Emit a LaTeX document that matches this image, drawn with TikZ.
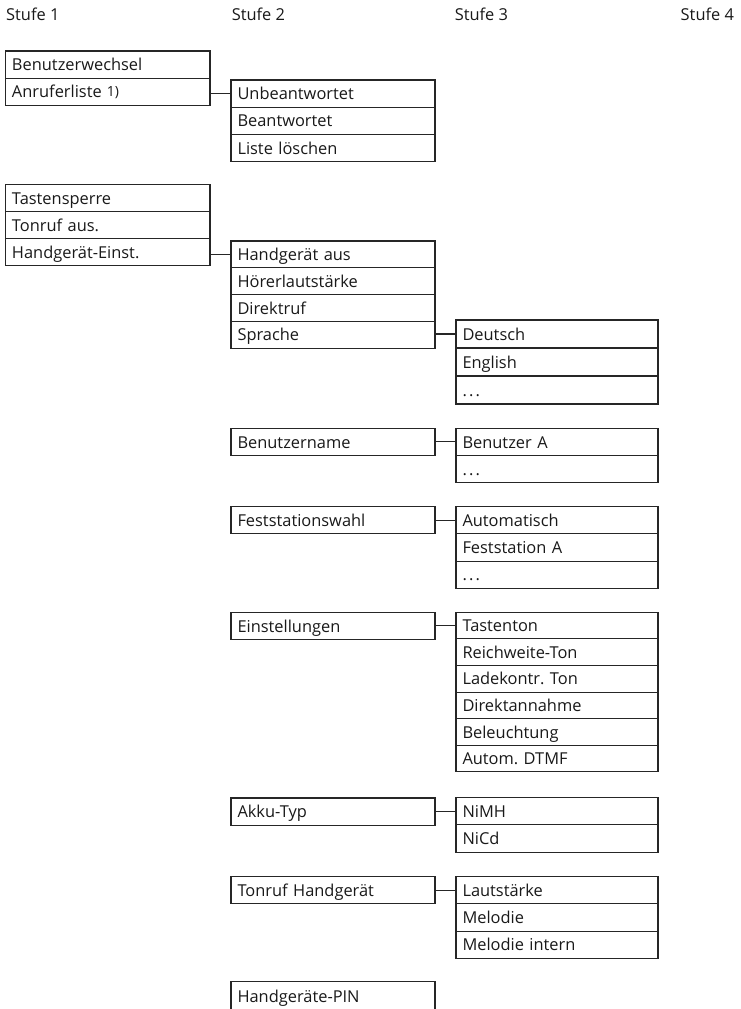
\documentclass[tikz,border=0pt]{standalone}
\usepackage{fontspec}
\setmainfont{Open Sans}
\frenchspacing
\newcommand{\mydots}{.\hspace{2.2pt}.\hspace{2.2pt}.}
\begin{document}
\begin{tikzpicture}[x=1pt,y=-1pt,
  row/.style={draw=black!85, line width=1.1pt, anchor=north west, outer sep=0pt,
    minimum height=27.2pt, inner xsep=6.5pt, inner ysep=0pt,
    text height=12.2pt, text depth=0pt, align=left,
    font=\fontsize{16.4}{18}\selectfont, text=black!90},
  cA/.style={row, text width=191.5pt},
  cB/.style={row, text width=191pt},
  cC/.style={row, text width=189pt},
  hdr/.style={anchor=base west, inner sep=0pt, font=\fontsize{16.4}{18}\selectfont, text=black!90},
  conn/.style={draw=black!85, line width=1.1pt}
]
\useasboundingbox (0,0) rectangle (741,1009);
\clip (0,0) rectangle (741,1009);

% headers
\node[hdr] (h1) at (6,20.7) {Stufe 1};
\node[hdr] (h2) at (231.6,20.7) {Stufe 2};
\node[hdr] (h3) at (454.6,20.7) {Stufe 3};
\node[hdr] (h4) at (680.5,20.7) {Stufe 4};

% column 1
\node[cA] (a1) at (5.5,51) {Benutzerwechsel};
\node[cA] (a2) at (a1.south west) {Anruferliste\hspace{5pt}{\fontsize{14}{14}\selectfont\raisebox{1.5pt}{1)}}};

\node[cA] (a3) at (5.5,184.3) {Tastensperre};
\node[cA] (a4) at (a3.south west) {Tonruf aus.};
\node[cA] (a5) at (a4.south west) {Handgerät-Einst.};

% column 2
\node[cB] (b1) at (231,80) {Unbeantwortet};
\node[cB] (b2) at (b1.south west) {Beantwortet};
\node[cB] (b3) at (b2.south west) {Liste löschen};

\node[cB,minimum height=26.8pt] (b4) at (231,241) {Handgerät aus};
\node[cB,minimum height=26.8pt] (b5) at (b4.south west) {Hörerlautstärke};
\node[cB,minimum height=26.8pt] (b6) at (b5.south west) {Direktruf};
\node[cB,minimum height=26.8pt] (b7) at (b6.south west) {Sprache};

\node[cB] (b8) at (231,428.3) {Benutzername};
\node[cB] (b9) at (231,506.7) {Feststationswahl};
\node[cB] (b10) at (231,612.3) {Einstellungen};
\node[cB] (b11) at (231,798) {Akku-Typ};
\node[cB] (b12) at (231,876.7) {Tonruf Handgerät};
\node[cB,minimum height=29pt] (b13) at (231,981.7) {Handgeräte-PIN};

% column 3
\node[cC,minimum height=28pt] (c1) at (456,320) {Deutsch};
\node[cC,minimum height=28pt] (c2) at (c1.south west) {English};
\node[cC,minimum height=28pt] (c3) at (c2.south west) {\mydots};

\node[cC] (c4) at (456,428.3) {Benutzer A};
\node[cC] (c5) at (c4.south west) {\mydots};

\node[cC] (c6) at (456,506.7) {Automatisch};
\node[cC] (c7) at (c6.south west) {Feststation A};
\node[cC] (c8) at (c7.south west) {\mydots};

\node[cC,minimum height=26.6pt] (c9) at (456,612.3) {Tastenton};
\node[cC,minimum height=26.6pt] (c10) at (c9.south west) {Reichweite-Ton};
\node[cC,minimum height=26.6pt] (c11) at (c10.south west) {Ladekontr. Ton};
\node[cC,minimum height=26.6pt] (c12) at (c11.south west) {Direktannahme};
\node[cC,minimum height=26.6pt] (c13) at (c12.south west) {Beleuchtung};
\node[cC,minimum height=26.6pt] (c14) at (c13.south west) {Autom. DTMF};

\node[cC] (c15) at (456,797.7) {NiMH};
\node[cC] (c16) at (c15.south west) {NiCd};

\node[cC] (c17) at (456,876.7) {Lautstärke};
\node[cC] (c18) at (c17.south west) {Melodie};
\node[cC] (c19) at (c18.south west) {Melodie intern};

% connectors
\draw[conn] (b1.west -| a2.east) -- (b1.west);
\draw[conn] (b4.west -| a5.east) -- (b4.west);
\draw[conn] (c1.west -| b7.east) -- (c1.west);
\draw[conn] (c4.west -| b8.east) -- (c4.west);
\draw[conn] (c6.west -| b9.east) -- (c6.west);
\draw[conn] (c9.west -| b10.east) -- (c9.west);
\draw[conn] (c15.west -| b11.east) -- (c15.west);
\draw[conn] (c17.west -| b12.east) -- (c17.west);
\end{tikzpicture}
\end{document}
